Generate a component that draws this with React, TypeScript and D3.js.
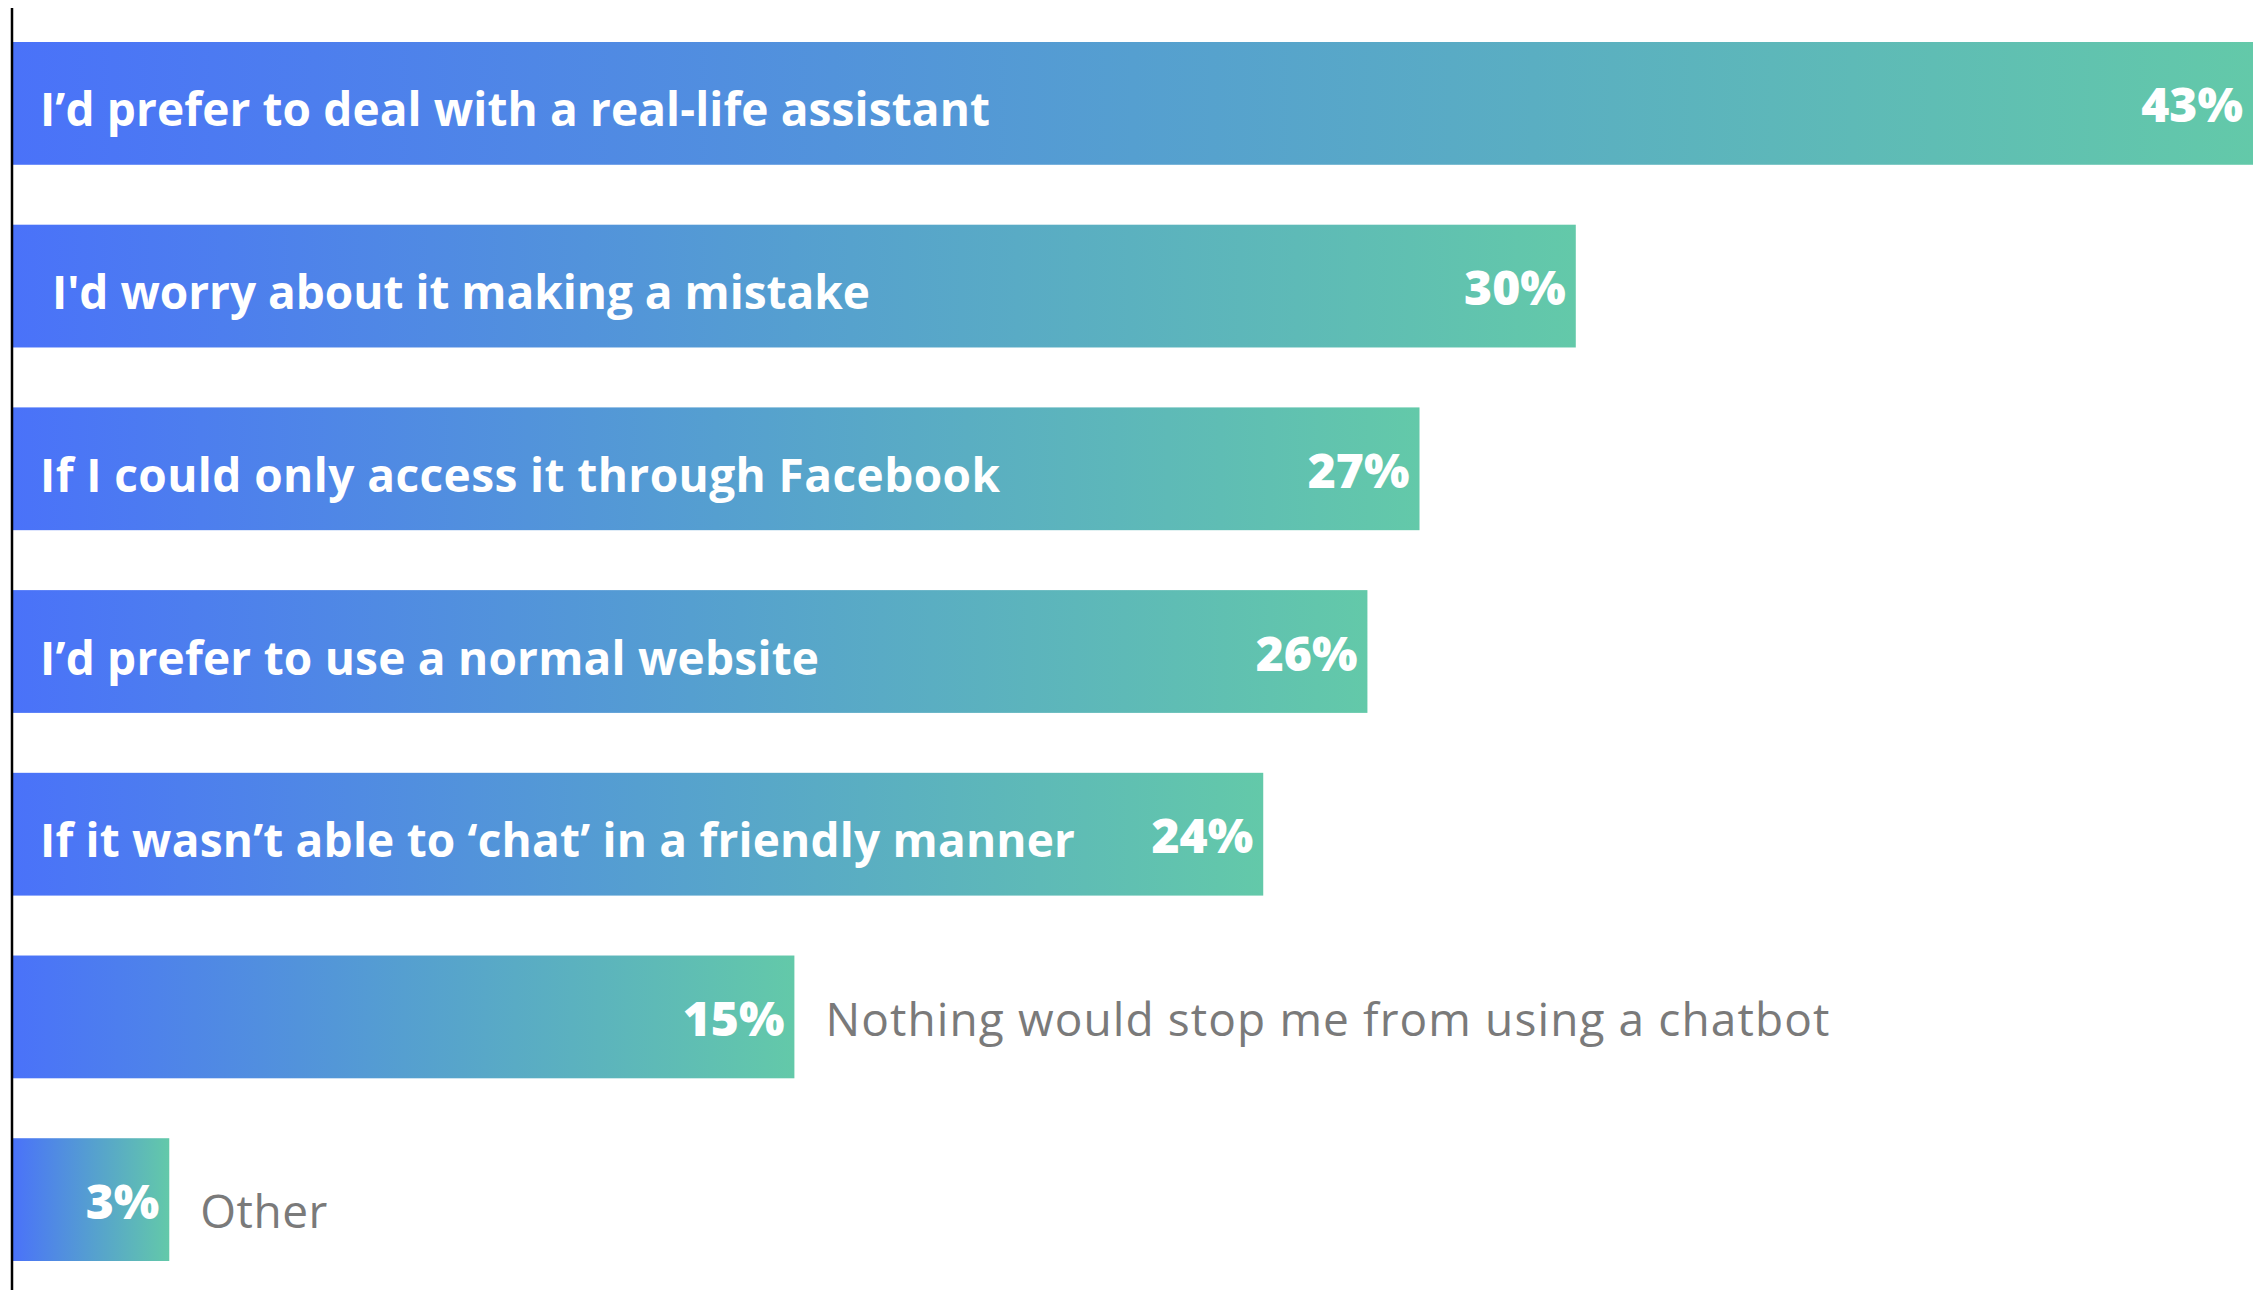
import React from "react";
import * as d3 from "d3";

const categories = [
  "I’d prefer to deal with a real-life assistant",
  " I'd worry about it making a mistake",
  "If I could only access it through Facebook",
  "I’d prefer to use a normal website",
  "If it wasn’t able to ‘chat’ in a friendly manner",
  "Nothing would stop me from using a chatbot",
  "Other",
];
const values = [43, 30, 27, 26, 24, 15, 3];
const labelInside = [true, true, true, true, true, false, false];
// approximate rendered label widths in the original artwork
const labelWidths = [950, 830, 960, 779, 1035, 1004, 127];
const labelDy = [23, 23, 23, 23, 23, 19, 28];

const W = 2255;
const H = 1290;

export default function App() {
  const x = d3.scaleLinear().domain([0, 43]).range([13, 2253]);
  const y = d3
    .scaleBand<number>()
    .domain(d3.range(values.length))
    .range([42, 1261])
    .paddingInner(0.328)
    .paddingOuter(0);

  return (
    <svg
      width={W}
      height={H}
      style={{ position: "absolute", left: 0, top: 0, background: "#fff" }}
    >
      <defs>
        <linearGradient id="barGrad" x1="0" x2="1" y1="0" y2="0">
          <stop offset="0%" stopColor="#4A72F9" />
          <stop offset="50%" stopColor="#559FD0" />
          <stop offset="100%" stopColor="#63C9A9" />
        </linearGradient>
      </defs>
      {values.map((v, i) => {
        const y0 = y(i)!;
        const bh = y.bandwidth();
        const cy = y0 + bh / 2;
        const xEnd = x(v);
        return (
          <g key={i}>
            <rect x={x(0)} y={y0} width={xEnd - x(0)} height={bh} fill="url(#barGrad)" />
            {labelInside[i] ? (
              <text
                x={40}
                y={cy + labelDy[i]}
                fill="#fff"
                fontFamily="'Open Sans', Lato, sans-serif"
                fontWeight={700}
                fontSize={46}
                textLength={labelWidths[i]}
                lengthAdjust="spacing"
                style={{ whiteSpace: "pre" }}
              >
                {categories[i]}
              </text>
            ) : (
              <text
                x={xEnd + 31}
                y={cy + labelDy[i]}
                fill="#7a7a7a"
                fontFamily="'Open Sans', Lato, sans-serif"
                fontWeight={400}
                fontSize={46}
                textLength={labelWidths[i]}
                lengthAdjust="spacing"
              >
                {categories[i]}
              </text>
            )}
            <text
              x={xEnd - 10}
              y={cy + 19}
              fill="#fff"
              textAnchor="end"
              fontFamily="'Open Sans', Lato, sans-serif"
              fontWeight={800}
              fontSize={48}
            >
              {v}%
            </text>
          </g>
        );
      })}
      <line x1={12} x2={12} y1={8} y2={H} stroke="#000" strokeWidth={2.5} />
    </svg>
  );
}
